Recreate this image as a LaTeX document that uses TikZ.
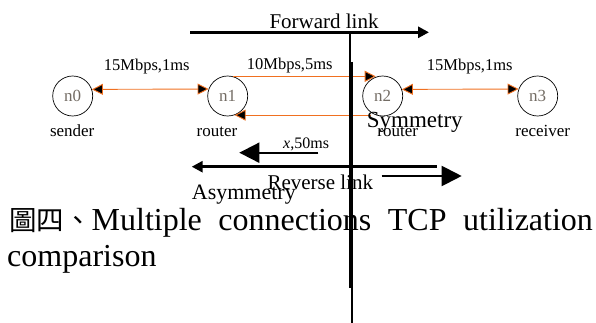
\documentclass[tikz,border=0pt]{standalone}
\usepackage{fontspec}
\setmainfont{Liberation Serif}
\newfontfamily\cjkfont{Noto Sans CJK TC}
\usetikzlibrary{arrows.meta}
\definecolor{linkorange}{RGB}{240,112,32}
\definecolor{nodegray}{RGB}{115,108,100}
\newcommand{\myfs}[1]{\fontsize{#1}{#1}\selectfont}
\tikzset{
  router/.style={circle,draw,line width=0.7pt,minimum size=40pt,inner sep=0pt,text=nodegray,font=\myfs{17}},
  lbl/.style={inner sep=0pt,anchor=base,font=\myfs{17}},
  linklbl/.style={inner sep=0pt,anchor=base,font=\myfs{16.5}},
  bigtxt/.style={inner sep=0pt,anchor=base west},
  lnk/.style={draw=linkorange,line width=0.9pt},
  lnkone/.style={lnk,-{Triangle[length=11pt,width=11pt,fill=black]}},
  lnkboth/.style={lnk,{Triangle[length=11pt,width=11pt,fill=black]}-{Triangle[length=11pt,width=11pt,fill=black]}},
  thickarrow/.style={line width=3pt,-{Triangle[length=11pt,width=11pt]}},
  bigarrow/.style={line width=2pt,-{Triangle[length=20pt,width=20pt]}},
  divider/.style={line width=2pt}
}
\begin{document}
\begin{tikzpicture}[x=1pt,y=-1pt]
\useasboundingbox (0,0) rectangle (596,323);
% nodes
\node[router] (n0) at (72.7,96) {n0};
\node[router] (n1) at (227.7,96) {n1};
\node[router] (n2) at (382.7,96) {n2};
\node[router] (n3) at (537.7,96) {n3};
% node labels
\node[lbl] (l0) at (72.2,136.7) {sender};
\node[lbl] (l1) at (217,136.7) {router};
\node[lbl] (l2) at (397.7,136.7) {router};
\node[lbl] (l3) at (542.7,136.7) {receiver};
% link labels
\node[linklbl] (t01) at (146.7,71) {15Mbps,1ms};
\node[linklbl] (t12) at (289.7,70) {10Mbps,5ms};
\node[linklbl] (t23) at (469.7,71) {15Mbps,1ms};
% links
\draw[lnkboth] (n0.19.6) -- (n1.160.4);
\draw[lnkboth] (n2.19.6) -- (n3.160.4);
\draw[lnkone] (n1.75) -- (n1.75 -| n2.110);
\draw[lnkone] (n1.290 -| n2.235) -- (n1.290);
% big texts
\node[bigtxt,font=\myfs{21}] (fwd) at (269.3,29) {Forward link};
\node[bigtxt,font=\myfs{23}] (sym) at (366.7,127.7) {Symmetry};
\node[bigtxt,font=\myfs{16}] (x50) at (283,148.3) {\textit{x},50ms};
\node[bigtxt,font=\myfs{21}] (rev) at (267.3,189.3) {Reverse link};
\node[bigtxt,font=\myfs{22}] (asym) at (191.7,199) {Asymmetry};
% caption
\node[bigtxt,font=\myfs{32}] (cap1) at (9,230) {\hbox to 583.7pt{{\cjkfont\myfs{27.5}圖四、}Multiple\ \hfill connections\ \hfill TCP\ \hfill utilization}};
\node[bigtxt,font=\myfs{32}] (cap2) at (7,266.7) {comparison};
% arrows
\coordinate (fs) at (190,32.3);
\coordinate (fe) at (429,32.3);
\draw[thickarrow] (fs) -- (fe);
\coordinate (rs) at (436.7,166.7);
\coordinate (re) at (191.7,166.7);
\draw[thickarrow] (rs) -- (re);
\coordinate (xs) at (318.3,152.7);
\coordinate (xe) at (239.3,152.7);
\draw[bigarrow] (xs) -- (xe);
\coordinate (ss) at (381.7,176);
\coordinate (se) at (461.7,176);
\draw[bigarrow] (ss) -- (se);
% dividers
\coordinate (v1s) at (350,32);
\coordinate (v1e) at (350,288);
\coordinate (v2s) at (351.8,62);
\coordinate (v2e) at (351.8,323);
\draw[divider] (v1s) -- (v1e);
\draw[divider] (v2s) -- (v2e);
\end{tikzpicture}
\end{document}
